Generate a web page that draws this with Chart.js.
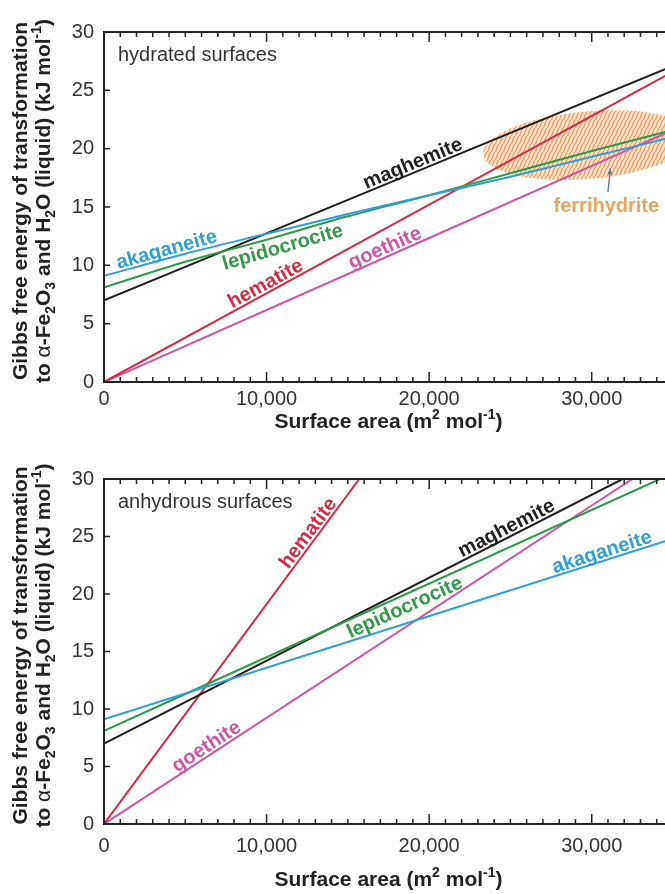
<!DOCTYPE html>
<html>
<head>
<meta charset="utf-8">
<title>Gibbs free energy of transformation vs surface area</title>
<script src="https://cdn.jsdelivr.net/npm/chart.js@4.4.1/dist/chart.umd.min.js"></script>
<style>
  html, body { margin: 0; padding: 0; background: #fff; overflow: hidden; }
  body { width: 665px; height: 894px; position: relative; }
  .panel { position: absolute; left: 0; width: 690px; height: 447px; }
  #panel-top { top: 0; }
  #panel-bottom { top: 447px; }
</style>
</head>
<body>
<div class="panel" id="panel-top"><canvas id="hydrated"></canvas></div>
<div class="panel" id="panel-bottom"><canvas id="anhydrous"></canvas></div>
<script>
const FONT = '"Liberation Sans", Arial, Helvetica, sans-serif';

// axes
const xTicks = [0, 10000, 20000, 30000];
const xMinorStep = 1000;
const yTicks = [0, 5, 10, 15, 20, 25, 30];

// series names / colours (same order in both panels)
const seriesNames = ['akaganeite', 'lepidocrocite', 'maghemite', 'hematite', 'goethite'];
const seriesColors = ['#2f9fd6', '#2f9a4c', '#1f1f1f', '#d42a45', '#cf55a3'];

// hydrated surfaces (top panel), kJ/mol vs m2/mol
const hydCurveX = [0, 5000, 10000, 15000, 20000, 25000, 30000, 35000];
const hydAkaganeite = [9.1, 11.0, 12.7, 14.4, 16.0, 17.6, 19.3, 21.0];
const hydLepidocrocite = [8.1, 10.3, 12.2, 14.2, 16.0, 17.9, 19.8, 21.6];
const hydLineX = [0, 35000];
const hydMaghemite = [7.0, 27.1];
const hydHematite = [0, 26.6];
const hydGoethite = [0, 21.6];
const hydLabelX = [4000, 10800, 19200, 10200, 17500];
const hydLabelSide = ['above', 'below', 'above', 'above', 'above'];

// ferrihydrite field (top panel)
const ferriCenter = [29800, 20.3];
const ferriRadius = [6500, 2.9];
const ferriTilt = -5;
const ferriLabelAt = [30900, 14.6];
const ferriArrowFrom = [31000, 16.3];
const ferriArrowTo = [31150, 18.3];

// anhydrous surfaces (bottom panel)
const anhAkaganeiteX = [0, 35000];
const anhAkaganeite = [9.1, 24.8];
const anhLepidocrociteX = [0, 34200];
const anhLepidocrocite = [8.1, 30];
const anhMaghemiteX = [0, 31900];
const anhMaghemite = [7.0, 30];
const anhHematiteX = [0, 15700];
const anhHematite = [0, 30];
const anhGoethiteX = [0, 32500];
const anhGoethite = [0, 30];
const anhLabelX = [30800, 18200, 25000, 13000, 6600];
const anhLabelSide = ['above', 'below', 'above', 'above', 'above'];

const yTitle1 = [['Gibbs free energy of transformation', 'b']];
const yTitle2 = [['to ', 'b'], ['\u03b1', 'n'], ['-Fe', 'b'], ['2', 'sub'], ['O', 'b'], ['3', 'sub'],
  [' and H', 'b'], ['2', 'sub'], ['O (liquid) (kJ mol', 'b'], ['-1', 'sup'], [')', 'b']];
const xTitle = [['Surface area (m', 'b'], ['2', 'sup'], [' mol', 'b'], ['-1', 'sup'], [')', 'b']];

function segFont(style, size) {
  const small = style === 'sub' || style === 'sup';
  const weight = style === 'n' ? 'normal' : 'bold';
  return weight + ' ' + Math.round(small ? size * 0.68 : size) + 'px ' + FONT;
}

function drawRich(ctx, segs, cx, baseY, size) {
  let total = 0;
  segs.forEach(s => { ctx.font = segFont(s[1], size); total += ctx.measureText(s[0]).width; });
  let xx = cx - total / 2;
  ctx.textAlign = 'left';
  ctx.textBaseline = 'alphabetic';
  segs.forEach(s => {
    ctx.font = segFont(s[1], size);
    const dy = s[1] === 'sub' ? size * 0.25 : (s[1] === 'sup' ? -size * 0.42 : 0);
    ctx.fillText(s[0], xx, baseY + dy);
    xx += ctx.measureText(s[0]).width;
  });
}

function pointOnSeries(chart, di, xv) {
  const d = chart.data.datasets[di].data;
  let i = 0;
  while (i < d.length - 2 && d[i + 1].x < xv) i++;
  const a = d[i], b = d[i + 1];
  const t = (xv - a.x) / (b.x - a.x);
  const yv = a.y + t * (b.y - a.y);
  const xs = chart.scales.x, ys = chart.scales.y;
  const ang = Math.atan2(ys.getPixelForValue(b.y) - ys.getPixelForValue(a.y),
                         xs.getPixelForValue(b.x) - xs.getPixelForValue(a.x));
  return { px: xs.getPixelForValue(xv), py: ys.getPixelForValue(yv), ang: ang };
}

function drawFrame(chart) {
  const { ctx, chartArea: a, scales: { x, y } } = chart;
  ctx.save();
  ctx.strokeStyle = '#222';
  ctx.lineWidth = 2;
  ctx.strokeRect(a.left, a.top, a.right - a.left, a.bottom - a.top);
  ctx.lineWidth = 1.5;
  ctx.beginPath();
  for (let v = x.min; v <= x.max; v += xMinorStep) {
    const px = x.getPixelForValue(v);
    const len = v % 10000 === 0 ? 10 : 5;
    ctx.moveTo(px, a.bottom); ctx.lineTo(px, a.bottom - len);
    ctx.moveTo(px, a.top); ctx.lineTo(px, a.top + len);
  }
  yTicks.forEach(v => {
    const py = y.getPixelForValue(v);
    ctx.moveTo(a.left, py); ctx.lineTo(a.left + 6, py);
    ctx.moveTo(a.right, py); ctx.lineTo(a.right - 6, py);
  });
  ctx.stroke();
  ctx.restore();
}

function drawFerrihydrite(chart) {
  const { ctx, chartArea: a, scales: { x, y } } = chart;
  const cx = x.getPixelForValue(ferriCenter[0]);
  const cy = y.getPixelForValue(ferriCenter[1]);
  const rx = x.getPixelForValue(ferriCenter[0] + ferriRadius[0]) - cx;
  const ry = cy - y.getPixelForValue(ferriCenter[1] + ferriRadius[1]);
  // peach hatch, steep diagonal strokes
  const tile = document.createElement('canvas');
  tile.width = 4; tile.height = 8;
  const tc = tile.getContext('2d');
  tc.fillStyle = '#fbe3cc';
  tc.fillRect(0, 0, 4, 8);
  tc.strokeStyle = '#eb9f66';
  tc.lineWidth = 1.3;
  tc.beginPath();
  tc.moveTo(-1, 9); tc.lineTo(3, -1);
  tc.moveTo(3, 9); tc.lineTo(7, -1);
  tc.stroke();
  ctx.save();
  ctx.beginPath();
  ctx.rect(a.left, a.top, a.right - a.left, a.bottom - a.top);
  ctx.clip();
  ctx.beginPath();
  ctx.ellipse(cx, cy, rx, ry, ferriTilt * Math.PI / 180, 0, Math.PI * 2);
  ctx.fillStyle = ctx.createPattern(tile, 'repeat');
  ctx.fill();
  ctx.restore();
}

function drawFerriLabel(chart) {
  const { ctx, scales: { x, y } } = chart;
  const x0 = x.getPixelForValue(ferriArrowFrom[0]), y0 = y.getPixelForValue(ferriArrowFrom[1]);
  const x1 = x.getPixelForValue(ferriArrowTo[0]), y1 = y.getPixelForValue(ferriArrowTo[1]);
  ctx.save();
  ctx.strokeStyle = '#6c7d92';
  ctx.fillStyle = '#6c7d92';
  ctx.lineWidth = 1.5;
  ctx.beginPath();
  ctx.moveTo(x0, y0); ctx.lineTo(x1, y1);
  ctx.stroke();
  const ang = Math.atan2(y1 - y0, x1 - x0);
  ctx.beginPath();
  ctx.moveTo(x1, y1);
  ctx.lineTo(x1 - 6 * Math.cos(ang - 0.4), y1 - 6 * Math.sin(ang - 0.4));
  ctx.lineTo(x1 - 6 * Math.cos(ang + 0.4), y1 - 6 * Math.sin(ang + 0.4));
  ctx.closePath();
  ctx.fill();
  ctx.fillStyle = '#f0a35a';
  ctx.font = 'bold 20px ' + FONT;
  ctx.textAlign = 'center';
  ctx.textBaseline = 'alphabetic';
  ctx.fillText('ferrihydrite', x.getPixelForValue(ferriLabelAt[0]), y.getPixelForValue(ferriLabelAt[1]));
  ctx.restore();
}

function panelPlugin(p) {
  return {
    id: 'panel_' + p.key,
    beforeDatasetsDraw(chart) {
      if (p.ferri) drawFerrihydrite(chart);
    },
    afterDatasetsDraw(chart) {
      const { ctx, chartArea: a } = chart;
      drawFrame(chart);
      // names written along the lines
      ctx.save();
      ctx.font = 'bold 20px ' + FONT;
      ctx.textAlign = 'center';
      p.labelX.forEach((lx, i) => {
        const pt = pointOnSeries(chart, i, lx);
        const ds = chart.data.datasets[i];
        ctx.save();
        ctx.translate(pt.px, pt.py);
        ctx.rotate(pt.ang);
        ctx.fillStyle = ds.borderColor;
        if (p.labelSide[i] === 'below') {
          ctx.textBaseline = 'top';
          ctx.fillText(ds.label, 0, 2);
        } else {
          ctx.textBaseline = 'alphabetic';
          ctx.fillText(ds.label, 0, -3);
        }
        ctx.restore();
      });
      ctx.restore();
      if (p.ferri) drawFerriLabel(chart);
      // panel caption and axis titles
      ctx.save();
      ctx.fillStyle = '#333';
      ctx.font = '20px ' + FONT;
      ctx.textAlign = 'left';
      ctx.textBaseline = 'alphabetic';
      ctx.fillText(p.caption, a.left + 14, a.top + 29);
      ctx.fillStyle = '#222';
      drawRich(ctx, xTitle, (a.left + a.right) / 2, a.bottom + p.xTitleOffset, 21);
      const cy = (a.top + a.bottom) / 2 - 6;
      ctx.translate(27, cy);
      ctx.rotate(-Math.PI / 2);
      drawRich(ctx, yTitle1, 0, 0, 21);
      ctx.translate(0, 23);
      drawRich(ctx, yTitle2, 0, 0, 21);
      ctx.restore();
    }
  };
}

function makeChart(id, p) {
  return new Chart(document.getElementById(id), {
    type: 'line',
    data: {
      datasets: p.series.map((s, i) => ({
        label: seriesNames[i],
        data: s[0].map((xv, j) => ({ x: xv, y: s[1][j] })),
        borderColor: seriesColors[i],
        borderWidth: 2,
        pointRadius: 0,
        fill: false,
        tension: s[0].length > 2 ? 0.4 : 0,
        cubicInterpolationMode: 'monotone'
      }))
    },
    options: {
      responsive: true,
      maintainAspectRatio: false,
      animation: false,
      layout: { padding: { top: p.plotTop, right: 17, bottom: 0, left: 0 } },
      plugins: { legend: { display: false }, tooltip: { enabled: false } },
      scales: {
        x: {
          type: 'linear', min: 0, max: 35000,
          afterFit: s => { s.height = p.xAxisHeight; },
          afterBuildTicks: s => { s.ticks = xTicks.map(v => ({ value: v })); },
          grid: { display: false, drawTicks: false },
          border: { display: false },
          ticks: {
            padding: p.xTickPad, color: '#333', maxRotation: 0, autoSkip: false,
            font: { family: FONT, size: 20 },
            callback: v => v.toLocaleString('en-US')
          }
        },
        y: {
          type: 'linear', min: 0, max: 30,
          afterFit: s => { s.width = 104; },
          afterBuildTicks: s => { s.ticks = yTicks.map(v => ({ value: v })); },
          grid: { display: false, drawTicks: false },
          border: { display: false },
          ticks: { padding: 10, color: '#333', font: { family: FONT, size: 20 } }
        }
      }
    },
    plugins: [panelPlugin(p)]
  });
}

makeChart('hydrated', {
  key: 'hydrated',
  caption: 'hydrated surfaces',
  plotTop: 32, xAxisHeight: 65, xTickPad: 5, xTitleOffset: 46,
  ferri: true,
  series: [
    [hydCurveX, hydAkaganeite],
    [hydCurveX, hydLepidocrocite],
    [hydLineX, hydMaghemite],
    [hydLineX, hydHematite],
    [hydLineX, hydGoethite]
  ],
  labelX: hydLabelX,
  labelSide: hydLabelSide
});

makeChart('anhydrous', {
  key: 'anhydrous',
  caption: 'anhydrous surfaces',
  plotTop: 32, xAxisHeight: 70, xTickPad: 10, xTitleOffset: 62,
  ferri: false,
  series: [
    [anhAkaganeiteX, anhAkaganeite],
    [anhLepidocrociteX, anhLepidocrocite],
    [anhMaghemiteX, anhMaghemite],
    [anhHematiteX, anhHematite],
    [anhGoethiteX, anhGoethite]
  ],
  labelX: anhLabelX,
  labelSide: anhLabelSide
});
</script>
</body>
</html>
